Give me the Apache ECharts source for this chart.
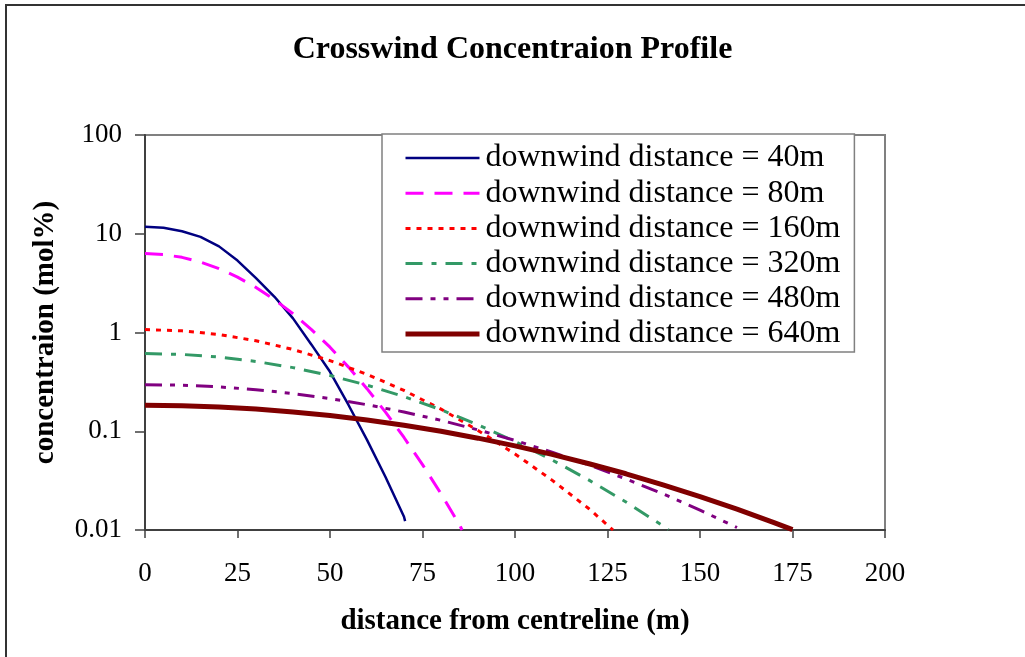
<!DOCTYPE html>
<html>
<head>
<meta charset="utf-8">
<script src="https://cdn.jsdelivr.net/npm/echarts@6/dist/echarts.min.js"></script>
<style>
  html, body { margin: 0; padding: 0; background: #ffffff; }
  #chart { width: 1025px; height: 657px; }
</style>
</head>
<body>
<div id="chart"></div>
<script>
// Crosswind distance (m) and concentration (mol%) for each downwind distance
const d40 = [0, 5, 10, 15, 20, 25, 30, 35, 40, 45, 50, 55, 60, 65, 70, 70.3];
const c40 = [11.8, 11.5, 10.6, 9.3, 7.45, 5.35, 3.55, 2.3, 1.39, 0.753, 0.40, 0.1845, 0.0817, 0.0344, 0.0136, 0.0123];

const d80 = [0, 5, 10, 15, 20, 25, 30, 35, 40, 45, 50, 55, 60, 65, 70, 75, 80, 85, 85.7];
const c80 = [6.3, 6.15, 5.77, 5.17, 4.44, 3.64, 2.86, 2.15, 1.55, 1.07, 0.71, 0.446, 0.27, 0.156, 0.0865, 0.0459, 0.0233, 0.0113, 0.01];

const d160 = [0, 10, 20, 30, 40, 50, 60, 70, 80, 90, 100, 110, 120, 126.5];
const c160 = [1.07, 1.04, 0.954, 0.825, 0.673, 0.519, 0.377, 0.259, 0.1675, 0.102, 0.0589, 0.032, 0.0164, 0.01];

const d320 = [0, 10, 20, 30, 40, 50, 60, 70, 80, 90, 100, 110, 120, 130, 140, 141.5];
const c320 = [0.612, 0.6, 0.564, 0.509, 0.441, 0.367, 0.293, 0.2244, 0.165, 0.1164, 0.0789, 0.0513, 0.032, 0.0192, 0.011, 0.0101];

const d480 = [0, 10, 20, 30, 40, 50, 60, 70, 80, 90, 100, 110, 120, 130, 140, 150, 160];
const c480 = [0.296, 0.2925, 0.2814, 0.2637, 0.2408, 0.2142, 0.1856, 0.1567, 0.129, 0.1033, 0.0807, 0.0614, 0.0455, 0.0329, 0.0232, 0.0159, 0.0106];

const d640 = [0, 10, 20, 30, 40, 50, 60, 70, 80, 90, 100, 110, 120, 130, 140, 150, 160, 170, 175];
const c640 = [0.183, 0.181, 0.176, 0.168, 0.157, 0.1444, 0.1301, 0.1151, 0.0999, 0.0851, 0.0711, 0.0583, 0.0469, 0.0371, 0.0287, 0.0218, 0.0163, 0.0119, 0.0101];

const seriesNames = [
  'downwind distance = 40m',
  'downwind distance = 80m',
  'downwind distance = 160m',
  'downwind distance = 320m',
  'downwind distance = 480m',
  'downwind distance = 640m'
];

const yTickLabels = ['0.01', '0.1', '1', '10', '100'];
const xTickLabels = ['0', '25', '50', '75', '100', '125', '150', '175', '200'];

const serif = '"Liberation Serif", "Times New Roman", serif';

function pairs(xs, ys) {
  return xs.map((x, i) => [x, ys[i]]);
}

const lineStyles = [
  { color: '#000080', width: 2.5, type: 'solid' },
  { color: '#FF00FF', width: 3, type: [18, 11] },
  { color: '#FF0000', width: 3, type: [5, 6] },
  { color: '#339966', width: 3, type: [17, 9, 5, 9] },
  { color: '#800080', width: 3, type: [17, 8, 5, 8, 5, 8] },
  { color: '#800000', width: 5, type: 'solid' }
];

const dataSets = [
  pairs(d40, c40), pairs(d80, c80), pairs(d160, c160),
  pairs(d320, c320), pairs(d480, c480), pairs(d640, c640)
];

const chart = echarts.init(document.getElementById('chart'), null, { renderer: 'canvas' });

chart.setOption({
  animation: false,
  backgroundColor: '#ffffff',
  title: {
    text: 'Crosswind Concentraion Profile',
    left: 'center',
    top: 29,
    textStyle: { fontFamily: serif, fontSize: 32, fontWeight: 'bold', color: '#000' }
  },
  graphic: [
    {
      type: 'rect',
      shape: { x: 6, y: 5, width: 1040, height: 700 },
      style: { fill: 'none', stroke: '#333', lineWidth: 2 },
      silent: true
    }
  ],
  grid: {
    left: 145, right: 140, top: 135, bottom: 127,
    show: true, borderColor: '#808080', borderWidth: 2, backgroundColor: 'transparent'
  },
  legend: {
    orient: 'vertical',
    left: 382,
    top: 134,
    padding: [8, 14, 2, 21],
    itemGap: 3.2,
    itemWidth: 74,
    itemHeight: 14,
    backgroundColor: '#ffffff',
    borderColor: '#808080',
    borderWidth: 1.5,
    itemStyle: { opacity: 0 },
    lineStyle: { width: 'inherit' },
    textStyle: { fontFamily: serif, fontSize: 32, color: '#000', padding: [0, 0, 0, 1] },
    data: seriesNames
  },
  xAxis: {
    type: 'value',
    min: 0, max: 200, interval: 25,
    name: 'distance from centreline (m)',
    nameLocation: 'middle',
    nameGap: 77,
    nameTextStyle: { fontFamily: serif, fontSize: 29, fontWeight: 'bold', color: '#000' },
    axisLine: { show: true, onZero: false, lineStyle: { color: '#404040', width: 2 } },
    axisTick: { show: true, inside: false, length: 8, lineStyle: { color: '#404040', width: 1.5 } },
    axisLabel: {
      fontFamily: serif, fontSize: 27, color: '#000', margin: 30,
      formatter: (v) => xTickLabels[Math.round(v / 25)]
    },
    splitLine: { show: false }
  },
  yAxis: {
    type: 'log',
    logBase: 10,
    min: 0.01, max: 100,
    name: 'concentraion (mol%)',
    nameLocation: 'middle',
    nameGap: 85,
    nameRotate: 90,
    nameTextStyle: { fontFamily: serif, fontSize: 29, fontWeight: 'bold', color: '#000' },
    axisLine: { show: true, lineStyle: { color: '#404040', width: 2 } },
    axisTick: { show: true, inside: false, length: 10, lineStyle: { color: '#404040', width: 1.5 } },
    axisLabel: {
      fontFamily: serif, fontSize: 27, color: '#000', margin: 23,
      formatter: (v) => yTickLabels[Math.round(Math.log10(v)) + 2]
    },
    splitLine: { show: false },
    minorTick: { show: false }
  },
  series: dataSets.map((data, i) => ({
    name: seriesNames[i],
    type: 'line',
    data: data,
    showSymbol: false,
    symbol: 'none',
    smooth: false,
    clip: true,
    lineStyle: lineStyles[i],
    itemStyle: { color: lineStyles[i].color },
    z: i === 5 ? 3 : 2
  }))
});
</script>
</body>
</html>
